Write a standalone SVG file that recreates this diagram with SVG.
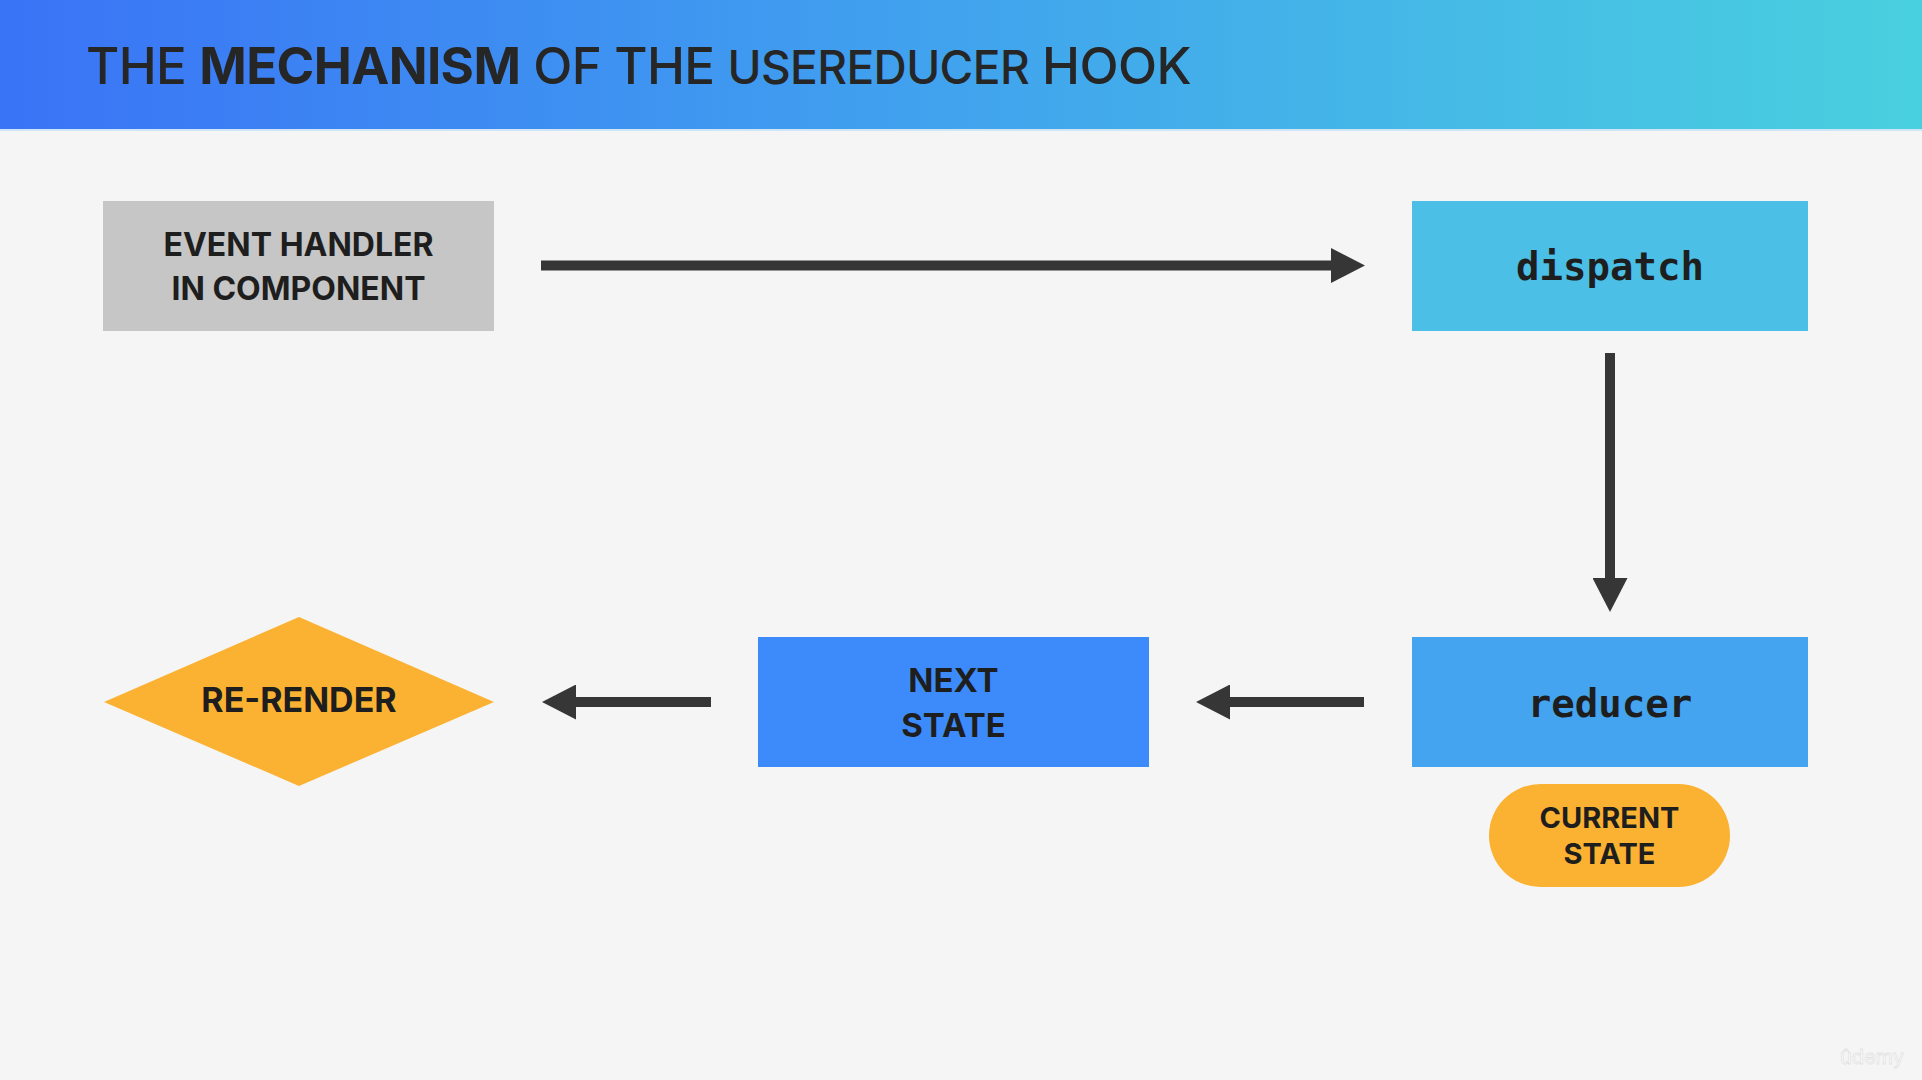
<svg xmlns="http://www.w3.org/2000/svg" width="1922" height="1080" viewBox="0 0 1922 1080">
<defs>
<linearGradient id="hdr" x1="0" y1="0" x2="1" y2="0">
<stop offset="0" stop-color="#3A73F6"/>
<stop offset="0.45" stop-color="#409FEF"/>
<stop offset="1" stop-color="#49D0DF"/>
</linearGradient>
<marker id="ah" viewBox="0 0 34 35" refX="0" refY="17.5" markerUnits="userSpaceOnUse" markerWidth="34" markerHeight="35" orient="auto">
<path d="M0,0 L34,17.5 L0,35 Z" fill="#363636"/>
</marker>
</defs>
<style>
.lbl{font-family:Inter,"Liberation Sans",sans-serif;font-weight:700;fill:#1E1E1E;text-anchor:middle}
.mono{font-family:"DejaVu Sans Mono","Liberation Mono",monospace;font-weight:700;fill:#1E1E1E;text-anchor:middle}
.conn{stroke:#363636;stroke-width:10;fill:none;marker-end:url(#ah)}
</style>
<rect width="1922" height="1080" fill="#F5F5F5"/>
<rect width="1922" height="130" fill="url(#hdr)"/>
<rect y="129" width="1922" height="2" fill="#CFE6F7"/>
<text x="86" y="84" font-family="Inter,'Liberation Sans',sans-serif" font-size="51" fill="#262626" font-weight="500" letter-spacing="-0.6">THE <tspan font-weight="700">MECHANISM</tspan> OF THE <tspan font-size="46">USEREDUCER</tspan> HOOK</text>

<g id="connectors">
<line class="conn" x1="541" y1="265.5" x2="1331" y2="265.5"/>
<line class="conn" x1="1610" y1="353" x2="1610" y2="578"/>
<line class="conn" x1="1364" y1="702" x2="1230" y2="702"/>
<line class="conn" x1="711" y1="702" x2="576" y2="702"/>
</g>

<g id="event-handler">
<rect x="103" y="201" width="391" height="130" fill="#C6C6C6"/>
<text class="lbl" x="298.5" y="256" font-size="32">EVENT HANDLER</text>
<text class="lbl" x="298.5" y="300" font-size="32">IN COMPONENT</text>
</g>

<g id="dispatch">
<rect x="1412" y="201" width="396" height="130" fill="#4BBFE6"/>
<text class="mono" x="1610" y="280" font-size="39">dispatch</text>
</g>

<g id="reducer">
<rect x="1412" y="637" width="396" height="130" fill="#44A4EF"/>
<text class="mono" x="1610" y="717" font-size="39">reducer</text>
</g>

<g id="current-state">
<rect x="1489" y="784" width="241" height="103" rx="51.5" fill="#FBB232"/>
<text class="lbl" x="1609.5" y="828" font-size="29">CURRENT</text>
<text class="lbl" x="1609.5" y="864" font-size="29">STATE</text>
</g>

<g id="next-state">
<rect x="758" y="637" width="391" height="130" fill="#3D8BFA"/>
<text class="lbl" x="953.5" y="692" font-size="33">NEXT</text>
<text class="lbl" x="953.5" y="737" font-size="33">STATE</text>
</g>

<g id="re-render">
<polygon points="104,702 299,617 494,702 299,786" fill="#FBB232"/>
<text class="lbl" x="299" y="712" font-size="34">RE-RENDER</text>
</g>

<text x="1872" y="1064" font-family="Inter,'Liberation Sans',sans-serif" font-size="20" fill="#FFFFFF" stroke="#E2E2E2" stroke-width="0.8" text-anchor="middle">ûdemy</text>
</svg>
